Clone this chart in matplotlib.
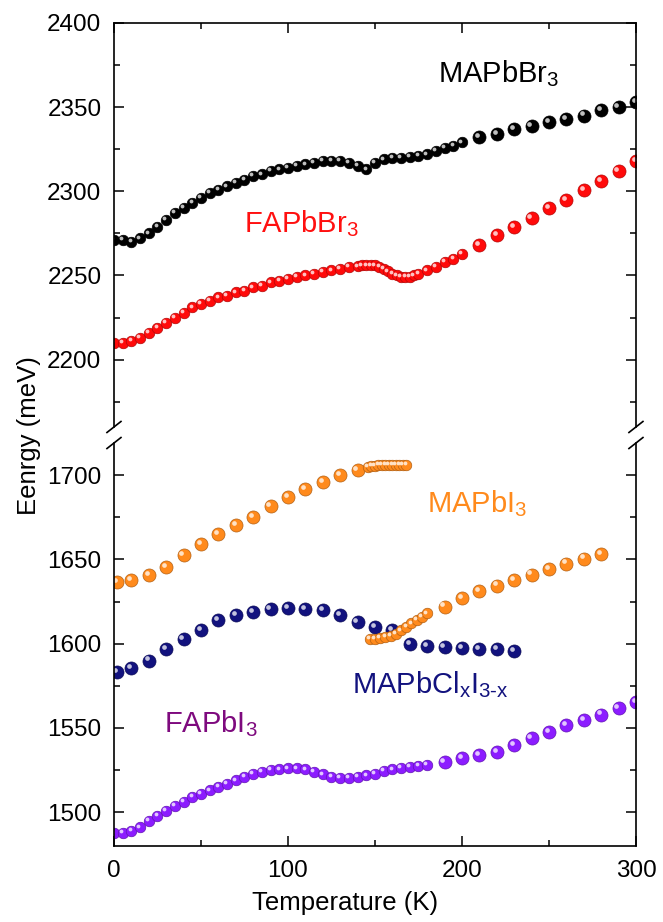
import numpy as np
import matplotlib
matplotlib.use("Agg")
import matplotlib.pyplot as plt
import matplotlib.colors as mcolors
from matplotlib.transforms import offset_copy

plt.rcParams['font.family'] = ['Liberation Sans', 'DejaVu Sans']
plt.rcParams['mathtext.fontset'] = 'custom'
plt.rcParams['mathtext.rm'] = 'Liberation Sans'
plt.rcParams['mathtext.default'] = 'regular'

# MAPbBr3 (black)
br_ma_t = [0, 5, 10, 15, 20, 25, 30, 35, 40, 45, 50, 55, 60, 65, 70, 75, 80,
           85, 90, 95, 100, 105, 110, 115, 120, 125, 130, 135, 140, 145, 150,
           155, 160, 165, 170, 175, 180, 185, 190, 195, 200]
br_ma_e = [2271, 2271, 2270, 2272, 2275, 2279, 2283, 2287, 2290, 2293, 2296,
           2299, 2301, 2303, 2305, 2307, 2309, 2310, 2312, 2313, 2314, 2315,
           2316, 2317, 2318, 2318, 2318, 2317, 2315, 2313, 2317, 2319, 2320,
           2320, 2320.5, 2321, 2322, 2324, 2326, 2327, 2329]
br_ma_t2 = [210, 220, 230, 240, 250, 260, 270, 280, 290, 300]
br_ma_e2 = [2332, 2334, 2337, 2339, 2341, 2343, 2345, 2348, 2350, 2353]

# FAPbBr3 (red)
br_fa_t = [0, 5, 10, 15, 20, 25, 30, 35, 40, 45, 50, 55, 60, 65, 70, 75, 80,
           85, 90, 95, 100, 105, 110, 115, 120, 125, 130, 135, 140, 142.5, 145,
           147.5, 150, 152.5, 155, 157.5, 160, 162.5, 165, 167.5, 170, 172.5,
           175, 180, 185, 190, 195, 200]
br_fa_e = [2210, 2210, 2211, 2213, 2216, 2219, 2222, 2225, 2228, 2231, 2233,
           2235, 2237, 2238, 2240, 2241, 2243, 2244, 2246, 2247, 2248, 2249,
           2250, 2251, 2252, 2253, 2254, 2255, 2255.5, 2256, 2256, 2256, 2256,
           2255, 2254, 2252.5, 2251, 2250, 2249, 2249, 2249, 2250, 2251, 2253,
           2255, 2258, 2260, 2263]
br_fa_t2 = [210, 220, 230, 240, 250, 260, 270, 280, 290, 300]
br_fa_e2 = [2268, 2274, 2279, 2284, 2290, 2295, 2301, 2306, 2312, 2318]

# MAPbI3 (orange)
i_ma_t1 = [2, 10, 20, 30, 40, 50, 60, 70, 80, 90, 100, 110, 120, 130, 140]
i_ma_e1 = [1636.5, 1637.5, 1640.5, 1645.5, 1652.5, 1659, 1665, 1670.5, 1675,
           1681.5, 1687, 1691.5, 1696, 1700, 1703]
i_ma_t2 = [146, 148, 150, 152, 154, 156, 158, 160, 162, 164, 166, 168]
i_ma_e2 = [1705, 1705.5, 1705.5, 1706, 1706, 1706, 1706, 1706, 1706, 1706,
           1706, 1706]
i_ma_t3 = [147, 150, 153, 156, 159, 162, 165, 168, 171, 174, 177, 180]
i_ma_e3 = [1603, 1603, 1603.5, 1604, 1604.5, 1606, 1608, 1610, 1612, 1614,
           1616, 1618]
i_ma_t4 = [190, 200, 210, 220, 230, 240, 250, 260, 270, 280]
i_ma_e4 = [1622, 1627, 1631, 1634.5, 1637.5, 1641, 1644.5, 1647.5, 1650.5,
           1653]

# MAPbClxI3-x (navy)
cl_t = [2, 10, 20, 30, 40, 50, 60, 70, 80, 90, 100, 110, 120, 130, 140, 150,
        160, 170, 180, 190, 200, 210, 220, 230]
cl_e = [1583, 1585.5, 1590, 1597, 1603, 1608, 1614, 1617, 1619, 1620.5, 1621,
        1620.5, 1620, 1617, 1613, 1610, 1608, 1600, 1598.5, 1598, 1597.5, 1597,
        1597, 1595.5]

# FAPbI3 (violet)
i_fa_t = [0, 5, 10, 15, 20, 25, 30, 35, 40, 45, 50, 55, 60, 65, 70, 75, 80,
          85, 90, 95, 100, 105, 110, 115, 120, 125, 130, 135, 140, 145, 150,
          155, 160, 165, 170, 175, 180]
i_fa_e = [1487.5, 1488, 1489, 1491, 1495, 1498, 1501, 1504, 1506, 1509, 1511,
          1513, 1515, 1517, 1519, 1521, 1523, 1524, 1525, 1525.5, 1526, 1526,
          1525.5, 1524, 1522.5, 1521, 1520.5, 1520.5, 1521, 1522, 1523, 1524.5,
          1525.5, 1526.5, 1527, 1527.5, 1528]
i_fa_t2 = [190, 200, 210, 220, 230, 240, 250, 260, 270, 280, 290, 300]
i_fa_e2 = [1530, 1532, 1534, 1536, 1540, 1544, 1547.5, 1551.5, 1554.5, 1558,
           1562, 1565.5]

c_black = "#000000"
c_red = "#ff0a0a"
c_orange = "#ff8a1c"
c_navy = "#12127e"
c_violet = "#8c1cff"


def mix(color, other, f):
    a = np.array(mcolors.to_rgb(color))
    b = np.array(mcolors.to_rgb(other))
    return tuple(a * (1 - f) + b * f)


def balls(ax, x, y, color, size):
    # glossy sphere look: base marker + small light spot
    ax.plot(x, y, 'o', ls='none', ms=size, mfc=color,
            mec=mix(color, 'black', 0.3), mew=0.5)
    hl = offset_copy(ax.transData, fig=ax.figure,
                     x=-size * 0.16, y=size * 0.16, units='points')
    ax.plot(x, y, 'o', ls='none', ms=size * 0.36,
            mfc=mix(color, 'white', 0.75), mec='none', transform=hl)


def style(ax, top):
    ax.set_xlim(0, 300)
    ax.set_xticks([0, 100, 200, 300])
    ax.set_xticks([50, 150, 250], minor=True)
    ax.tick_params(which='both', direction='in', right=True, width=1.1,
                   labelsize=17.5, pad=9)
    ax.tick_params(which='major', length=7)
    ax.tick_params(which='minor', length=4)
    for s in ax.spines.values():
        s.set_linewidth(1.2)
    if top:
        ax.spines['bottom'].set_visible(False)
        ax.tick_params(axis='x', which='both', bottom=False, top=True,
                       labelbottom=False)
    else:
        ax.spines['top'].set_visible(False)
        ax.tick_params(axis='x', which='both', top=False, bottom=True,
                       pad=10)


fig = plt.figure(figsize=(6.63, 9.22), dpi=100)
ax1 = fig.add_axes([0.1719, 0.5369, 0.7873, 0.4382])
ax2 = fig.add_axes([0.1719, 0.0824, 0.7873, 0.4371])

dense, sparse = 7.6, 9.4
balls(ax1, br_ma_t, br_ma_e, c_black, dense)
balls(ax1, br_ma_t2, br_ma_e2, c_black, sparse)
balls(ax1, br_fa_t, br_fa_e, c_red, dense)
balls(ax1, br_fa_t2, br_fa_e2, c_red, sparse)

balls(ax2, i_ma_t1, i_ma_e1, c_orange, sparse)
balls(ax2, i_ma_t2, i_ma_e2, c_orange, dense)
balls(ax2, cl_t, cl_e, c_navy, sparse)
balls(ax2, i_ma_t3, i_ma_e3, c_orange, dense)
balls(ax2, i_ma_t4, i_ma_e4, c_orange, sparse)
balls(ax2, i_fa_t, i_fa_e, c_violet, dense)
balls(ax2, i_fa_t2, i_fa_e2, c_violet, sparse)

ax1.set_ylim(2160, 2400)
ax1.set_yticks([2200, 2250, 2300, 2350, 2400])
ax1.set_yticks([2175, 2225, 2275, 2325, 2375], minor=True)
ax2.set_ylim(1480, 1719)
ax2.set_yticks([1500, 1550, 1600, 1650, 1700])
ax2.set_yticks([1525, 1575, 1625, 1675], minor=True)
style(ax1, True)
style(ax2, False)

ax1.text(186, 2365, "MAPbBr$_3$", fontsize=21, color=c_black)
ax1.text(75, 2275.5, "FAPbBr$_3$", fontsize=21, color="#ff1010")
ax2.text(180, 1678, "MAPbI$_3$", fontsize=21, color=c_orange)
ax2.text(137, 1570.5, "MAPbCl$_x$I$_{3\u2010x}$", fontsize=21, color=c_navy)
ax2.text(29, 1547.5, "FAPbI$_3$", fontsize=21, color="#7e0a7e")

fig.text(0.044, 0.528, "Eenrgy (meV)", rotation=90, fontsize=18.5,
         ha='center', va='center')
fig.text(0.521, 0.021, "Temperature (K)", fontsize=18.5, ha='center',
         va='center')

# break marks on both spines
dx, dy = 7.0, 5.5
for ax, yy in ((ax1, 0.0), (ax2, 1.0)):
    bb = ax.get_position()
    W = bb.width * fig.bbox.width
    H = bb.height * fig.bbox.height
    for xx in (0.0, 1.0):
        ax.plot([xx - dx / W, xx + dx / W], [yy - dy / H, yy + dy / H],
                color='black', lw=1.2, transform=ax.transAxes, clip_on=False)

fig.savefig("out.png", dpi=100)
